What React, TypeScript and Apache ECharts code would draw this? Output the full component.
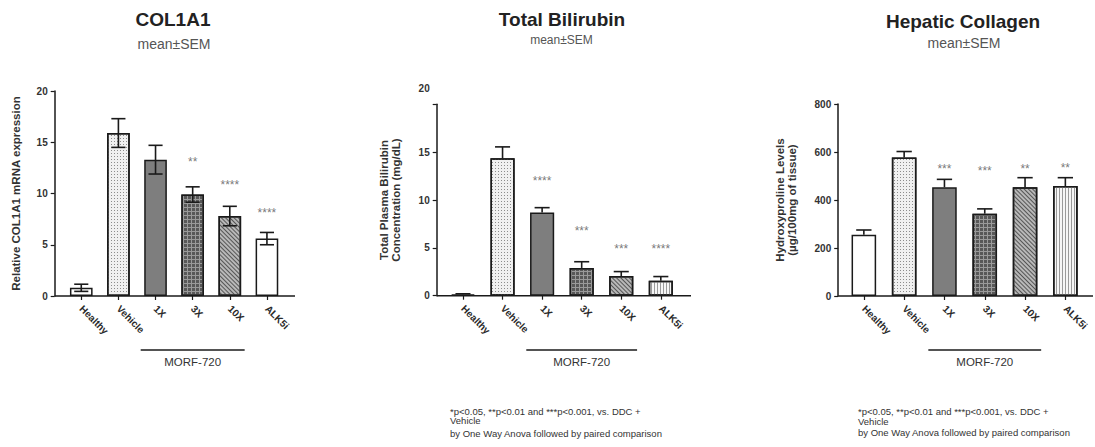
import React, { useEffect, useRef } from 'react';
import * as echarts from 'echarts';

const FONT = '"Liberation Sans", Arial, Helvetica, sans-serif';

const categories = ['Healthy', 'Vehicle', '1X', '3X', '10X', 'ALK5i'];
const morfStart = '1X';
const morfEnd = '10X';
const morfLabel = 'MORF-720';
const subtitle = 'mean±SEM';

// COL1A1
const col1a1Mean = [0.8, 15.9, 13.3, 9.9, 7.8, 5.6];
const col1a1Sem = [0.35, 1.4, 1.4, 0.75, 0.95, 0.6];
const col1a1Stars = ['', '', '', '**', '****', '****'];
const col1a1StarLevel = [null, null, null, 13.4, 11.1, 8.4];
const col1a1Axis = { min: 0, max: 20, interval: 5 };

// Total Bilirubin
const bilirubinMean = [0.15, 14.35, 8.7, 2.9, 2.05, 1.55];
const bilirubinSem = [0.05, 1.2, 0.5, 0.65, 0.47, 0.45];
const bilirubinStars = ['', '', '****', '***', '***', '****'];
const bilirubinStarLevel = [null, null, 12.3, 7.1, 5.2, 5.2];
const bilirubinAxis = { min: 0, max: 20, interval: 5 };

// Hepatic Collagen
const collagenMean = [255, 577, 453, 343, 453, 458];
const collagenSem = [20, 25, 33, 20, 40, 35];
const collagenStars = ['', '', '***', '***', '**', '**'];
const collagenStarLevel = [null, null, 541, 533, 541, 546];
const collagenAxis = { min: 0, max: 800, interval: 200 };

const footnoteLines = [
  '*p<0.05, **p<0.01 and ***p<0.001, vs. DDC +',
  'Vehicle',
  'by One Way Anova followed by paired comparison',
];

// patterns
const dotDecal = { symbol: 'rect', symbolSize: 1, dashArrayX: [1, 2], dashArrayY: [1, 2], color: '#8c8c8c' };
const gridDecal = { symbol: 'rect', symbolSize: 1, dashArrayX: [3, 1], dashArrayY: [3, 1], color: '#585858' };
const diagDecal = { symbol: 'rect', symbolSize: 1, dashArrayX: [1, 0], dashArrayY: [1, 2], rotation: Math.PI / 4, color: '#555555' };
const stripeDecal = { symbol: 'rect', symbolSize: 1, dashArrayX: [1, 2], dashArrayY: [1, 0], color: '#9a9a9a' };

const sWhite = { color: '#ffffff' };
const sVehicle = { color: '#f0f0f0', decal: dotDecal };
const s1X = { color: '#7e7e7e' };
const s3X = { color: '#9a9a9a', decal: gridDecal };
const s10X = { color: '#b8b8b8', decal: diagDecal };
const sStripe = { color: '#f6f6f6', decal: stripeDecal };

const panels = [
  {
    title: 'COL1A1', titleX: 173, titleY: 19, subX: 174, subY: 43.5, subSize: 14,
    gridLeft: 62.7, gridTop: 91, gridWidth: 222.8, gridHeight: 205, offset: 8, axisRight: 295,
    yName: 'Relative COL1A1 mRNA expression', nameGap: 33,
    mean: col1a1Mean, sem: col1a1Sem, stars: col1a1Stars, starLevel: col1a1StarLevel, axis: col1a1Axis,
    both: true, styles: [sWhite, sVehicle, s1X, s3X, s10X, sWhite], footX: null, liftTop: false,
  },
  {
    title: 'Total Bilirubin', titleX: 562, titleY: 19.5, subX: 561.5, subY: 40, subSize: 12,
    gridLeft: 443.2, gridTop: 104.3, gridWidth: 237.4, gridHeight: 191.4, offset: 6.5, axisRight: 691,
    yName: 'Total Plasma Bilirubin\nConcentration (mg/dL)', nameGap: 35,
    mean: bilirubinMean, sem: bilirubinSem, stars: bilirubinStars, starLevel: bilirubinStarLevel, axis: bilirubinAxis,
    both: false, styles: [sWhite, sVehicle, s1X, s3X, s10X, sStripe], footX: 450, footY: [411, 420, 433], liftTop: true,
  },
  {
    title: 'Hepatic Collagen', titleX: 963, titleY: 21, subX: 964, subY: 42.5, subSize: 14,
    gridLeft: 843.7, gridTop: 104, gridWidth: 241.8, gridHeight: 192, offset: 5.5, axisRight: 1093,
    yName: 'Hydroxyproline Levels\n(µg/100mg of tissue)', nameGap: 40,
    mean: collagenMean, sem: collagenSem, stars: collagenStars, starLevel: collagenStarLevel, axis: collagenAxis,
    both: false, styles: [sWhite, sVehicle, s1X, s3X, s10X, sStripe], footX: 858, footY: [411, 421, 432], liftTop: false,
  },
];

const INK = '#1a1a1a';

export default function App() {
  const ref = useRef<HTMLDivElement>(null);
  useEffect(() => {
    const chart = echarts.init(ref.current as HTMLDivElement, null, { renderer: 'svg' });
    const grids: any[] = [];
    const xAxes: any[] = [];
    const yAxes: any[] = [];
    const series: any[] = [];
    panels.forEach((p: any, i: number) => {
      grids.push({ left: p.gridLeft, top: p.gridTop, width: p.gridWidth, height: p.gridHeight, containLabel: false });
      xAxes.push({
        type: 'category', gridIndex: i, data: categories,
        axisLine: { show: false },
        axisTick: { show: true, alignWithLabel: true, length: 4, lineStyle: { color: INK, width: 1.2 } },
        axisLabel: { rotate: -45, interval: 0, margin: 11, fontSize: 10, fontWeight: 'bold', color: '#2a2a2a', fontFamily: FONT },
      });
      yAxes.push({
        type: 'value', gridIndex: i, min: p.axis.min, max: p.axis.max, interval: p.axis.interval,
        offset: p.offset,
        axisLine: { show: true, lineStyle: { color: INK, width: 1.5 } },
        axisTick: { show: true, length: 4, lineStyle: { color: INK, width: 1.2 } },
        splitLine: { show: false },
        axisLabel: {
          margin: 7, fontSize: 10, fontWeight: 'bold', color: '#333', fontFamily: FONT, lineHeight: 16,
          formatter: (v: number) => (p.liftTop && v === p.axis.max ? `${v}\n \n ` : `${v}`),
        },
        name: p.yName, nameLocation: 'middle', nameGap: p.nameGap,
        nameTextStyle: { fontSize: 11.5, fontWeight: 'bold', color: '#333', fontFamily: FONT, lineHeight: 12 },
      });
      series.push({
        type: 'bar', xAxisIndex: i, yAxisIndex: i, barWidth: '61%',
        itemStyle: { borderColor: INK, borderWidth: 1.5 },
        data: p.mean.map((v: number, j: number) => ({ value: v, itemStyle: p.styles[j] })),
        z: 2,
      });
      series.push({
        type: 'custom', xAxisIndex: i, yAxisIndex: i, z: 5,
        encode: { x: 0, y: 1 },
        data: p.mean.map((m: number, j: number) => [j, m, p.sem[j]]),
        renderItem: (params: any, api: any) => {
          const j = api.value(0);
          const m = api.value(1);
          const s = api.value(2);
          const top = api.coord([j, m + s]);
          const base = api.coord([j, p.both ? m - s : m]);
          const band = api.size([1, 0])[0];
          const hw = band * 0.19;
          const st = { stroke: INK, lineWidth: 1.6 };
          const children: any[] = [
            { type: 'line', shape: { x1: top[0], y1: top[1], x2: base[0], y2: base[1] }, style: st },
            { type: 'line', shape: { x1: top[0] - hw, y1: top[1], x2: top[0] + hw, y2: top[1] }, style: st },
          ];
          if (p.both) {
            children.push({ type: 'line', shape: { x1: base[0] - hw, y1: base[1], x2: base[0] + hw, y2: base[1] }, style: st });
          }
          return { type: 'group', children };
        },
      });
      series.push({
        type: 'scatter', xAxisIndex: i, yAxisIndex: i, symbol: 'circle', symbolSize: 1, silent: true, z: 6,
        itemStyle: { color: 'rgba(0,0,0,0)' },
        label: { show: true, position: 'inside', fontSize: 12, color: '#555', fontFamily: FONT, offset: [0, 3] },
        data: p.starLevel.flatMap((v: number | null, j: number) =>
          v == null ? [] : [{ value: [j, v], label: { formatter: p.stars[j] } }]
        ),
      });
    });

    chart.setOption({
      animation: false,
      textStyle: { fontFamily: FONT },
      grid: grids,
      xAxis: xAxes,
      yAxis: yAxes,
      series,
    });

    const g: any[] = [];
    panels.forEach((p: any, i: number) => {
      const y0 = chart.convertToPixel({ yAxisIndex: i } as any, 0) as number;
      const xa = chart.convertToPixel({ xAxisIndex: i } as any, morfStart) as number;
      const xb = chart.convertToPixel({ xAxisIndex: i } as any, morfEnd) as number;
      const band = p.gridWidth / categories.length;
      g.push({
        type: 'line', z: 3,
        shape: { x1: p.gridLeft - p.offset, y1: y0, x2: p.axisRight, y2: y0 },
        style: { stroke: INK, lineWidth: 1.5 },
      });
      const l1 = xa - band * 0.4;
      const l2 = xb + band * 0.4;
      g.push({ type: 'line', shape: { x1: l1, y1: 350, x2: l2, y2: 350 }, style: { stroke: INK, lineWidth: 1.5 } });
      g.push({
        type: 'text', x: (l1 + l2) / 2, y: 362,
        style: { text: morfLabel, fill: '#333', fontSize: 11.5, fontFamily: FONT, align: 'center', verticalAlign: 'middle' },
      });
      g.push({
        type: 'text', x: p.titleX, y: p.titleY,
        style: { text: p.title, fill: '#222', fontSize: 19, fontWeight: 'bold', fontFamily: FONT, align: 'center', verticalAlign: 'middle' },
      });
      g.push({
        type: 'text', x: p.subX, y: p.subY,
        style: { text: subtitle, fill: '#555', fontSize: p.subSize, fontFamily: FONT, align: 'center', verticalAlign: 'middle' },
      });
      if (p.footX != null) {
        footnoteLines.forEach((t: string, k: number) => {
          g.push({
            type: 'text', x: p.footX, y: p.footY[k],
            style: { text: t, fill: '#333', fontSize: 9.5, fontFamily: FONT, align: 'left', verticalAlign: 'middle' },
          });
        });
      }
    });
    chart.setOption({ graphic: g });

    return () => chart.dispose();
  }, []);
  return <div ref={ref} style={{ position: 'absolute', left: 0, top: 0, width: 1095, height: 447 }} />;
}
